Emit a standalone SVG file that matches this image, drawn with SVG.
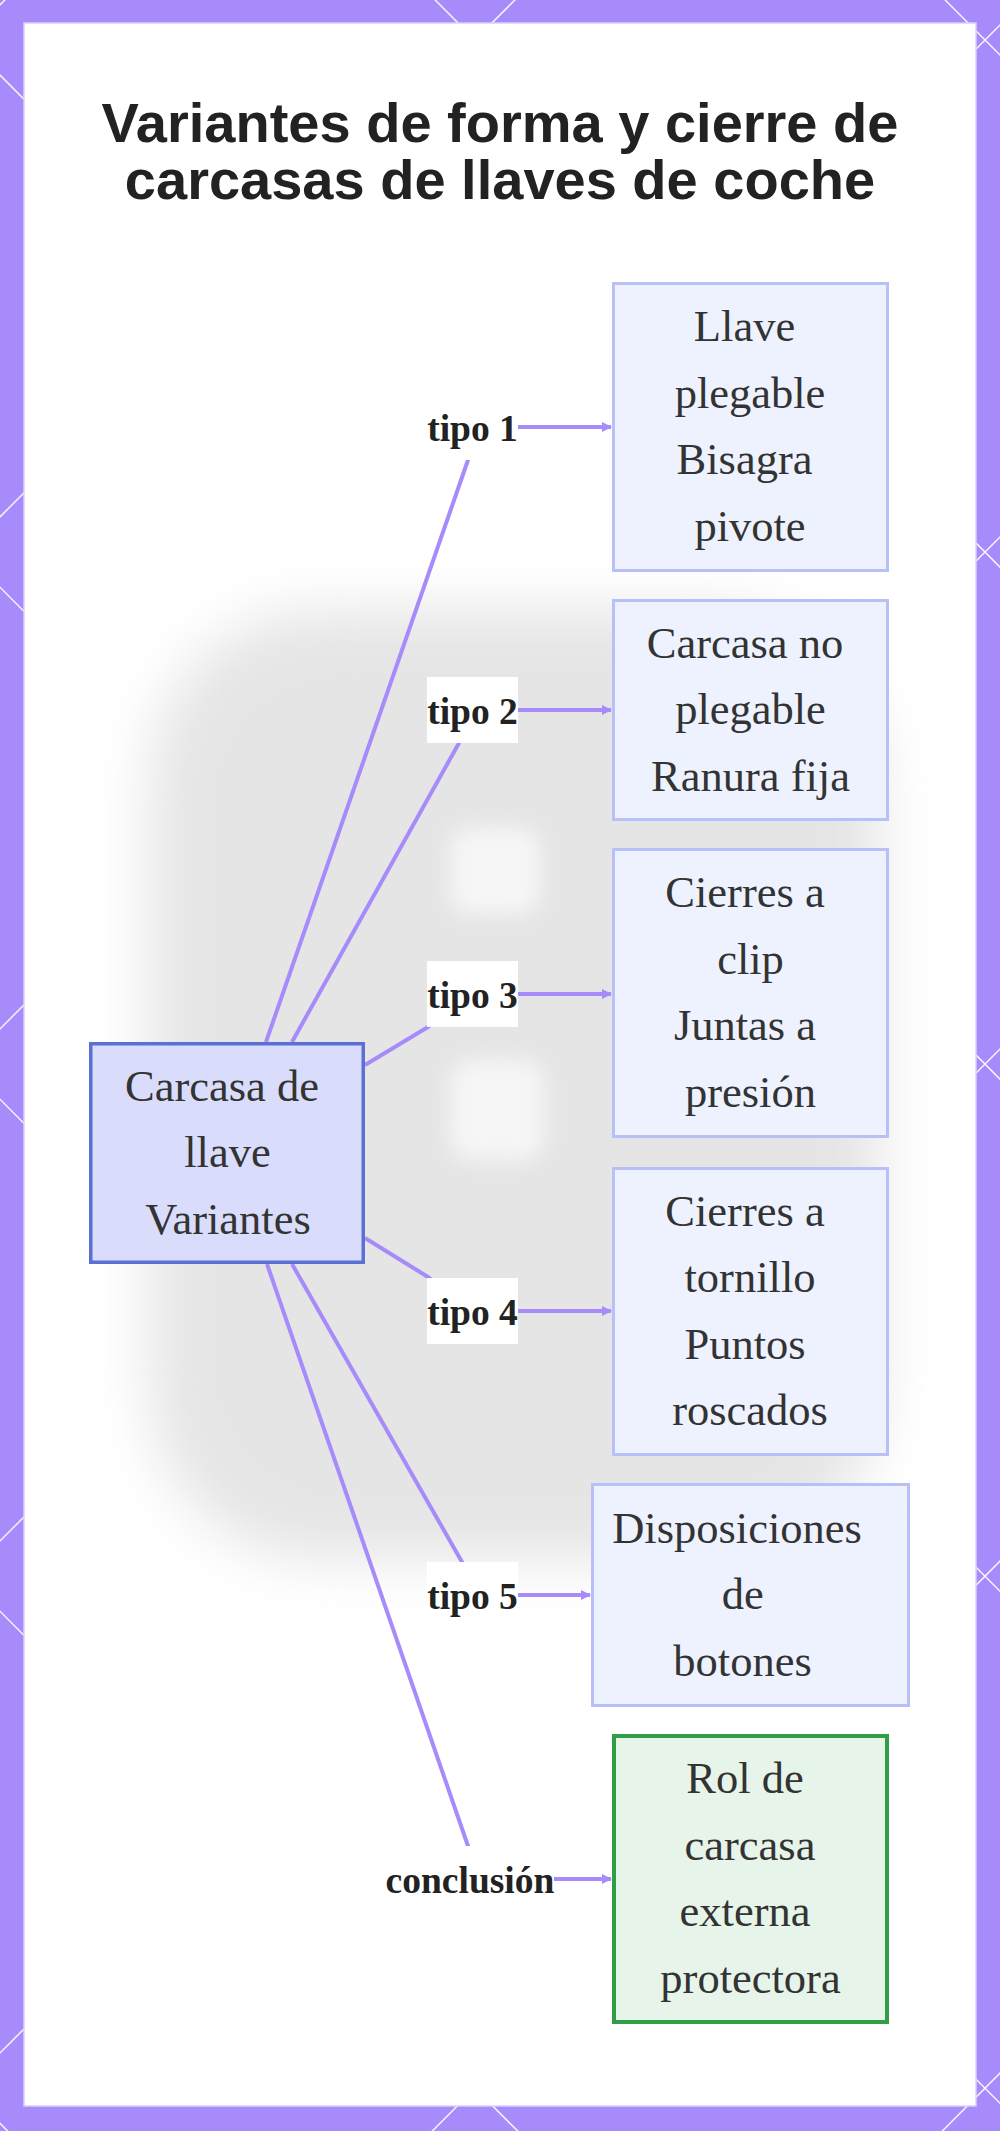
<svg xmlns="http://www.w3.org/2000/svg" width="1000" height="2131" viewBox="0 0 1000 2131">
  <defs>
    <style>
      .title { font-family: "Liberation Sans", Arial, sans-serif; font-weight: bold; font-size: 56px; fill: #222222; text-anchor: middle; }
      .ntext { font-family: "Liberation Serif", "Times New Roman", serif; font-size: 44.5px; fill: #333333; text-anchor: middle; }
      .ltext { font-family: "Liberation Serif", "Times New Roman", serif; font-weight: bold; font-size: 37.5px; fill: #222222; text-anchor: middle; }
      .lbg { fill: #ffffff; }
      .edge { fill: none; stroke: #a78bfa; stroke-width: 4; stroke-linejoin: round; }
      .box { fill: #eef2fe; stroke: #b7c1f7; stroke-width: 3; }
      .boxc { fill: #d9ddfb; stroke: #5b6fd4; stroke-width: 3.5; }
      .boxg { fill: #e6f4e9; stroke: #2f9e46; stroke-width: 4; }
      .lattice { fill: none; stroke: #ffffff; stroke-width: 1.5; opacity: 0.9; }
    </style>
    <marker id="arrow" viewBox="0 0 10 10" refX="9" refY="5" markerWidth="10" markerHeight="10" markerUnits="userSpaceOnUse" orient="auto">
      <path d="M0,0 L10,5 L0,10 z" fill="#a78bfa"/>
    </marker>
    <filter id="blurBig" x="-30%" y="-30%" width="160%" height="160%">
      <feGaussianBlur stdDeviation="28"/>
    </filter>
    <filter id="blurSmall" x="-50%" y="-50%" width="200%" height="200%">
      <feGaussianBlur stdDeviation="10"/>
    </filter>
  </defs>

  <!-- purple frame with lattice -->
  <rect x="0" y="0" width="1000" height="2131" fill="#a78bfa"/>
  <path class="lattice" d="M-2124.8,-10 L16.6,2140 M-1614.8,-10 L526.6,2140 M-1104.8,-10 L1036.6,2140 M-594.8,-10 L1546.6,2140 M-84.8,-10 L2056.6,2140 M425.2,-10 L2566.6,2140 M935.2,-10 L3076.6,2140 M14.8,-10 L-2126.6,2140 M524.8,-10 L-1616.6,2140 M1034.8,-10 L-1106.6,2140 M1544.8,-10 L-596.6,2140 M2054.8,-10 L-86.6,2140 M2564.8,-10 L423.4,2140 M3074.8,-10 L933.4,2140"/>

  <!-- white panel -->
  <rect x="24" y="23" width="952" height="2083" fill="#ffffff" stroke="#d9d0fc" stroke-width="1.5"/>

  <!-- faint blurred background photo -->
  <g id="background">
    <rect x="150" y="610" width="730" height="950" rx="170" fill="#e5e5e5" filter="url(#blurBig)"/>
    <rect x="450" y="828" width="90" height="86" rx="20" fill="#f6f6f6" filter="url(#blurSmall)"/>
    <rect x="450" y="1060" width="94" height="100" rx="22" fill="#f6f6f6" filter="url(#blurSmall)"/>
  </g>

  <!-- title -->
  <g id="title">
    <text class="title" x="500" y="142">Variantes de forma y cierre de</text>
    <text class="title" x="500" y="199">carcasas de llaves de coche</text>
  </g>

  <!-- connectors -->
  <g id="connectors">
    <path class="edge" d="M266,1042 L468,460 L472,427 L611,427" marker-end="url(#arrow)"/>
    <path class="edge" d="M292,1042 L459,743 L472,710 L611,710" marker-end="url(#arrow)"/>
    <path class="edge" d="M365,1065 L428,1027 L472,994 L611,994" marker-end="url(#arrow)"/>
    <path class="edge" d="M365,1238 L428,1277 L472,1311 L611,1311" marker-end="url(#arrow)"/>
    <path class="edge" d="M292,1264 L462,1562 L472,1595 L590,1595" marker-end="url(#arrow)"/>
    <path class="edge" d="M267,1264 L468,1846 L470,1879 L611,1879" marker-end="url(#arrow)"/>
  </g>

  <!-- edge labels -->
  <g id="edge-labels">
    <g id="label-tipo1">
      <rect class="lbg" x="427" y="394" width="91" height="66"/>
      <text class="ltext" x="472.5" y="441">tipo 1</text>
    </g>
    <g id="label-tipo2">
      <rect class="lbg" x="427" y="677" width="91" height="66"/>
      <text class="ltext" x="472.5" y="724">tipo 2</text>
    </g>
    <g id="label-tipo3">
      <rect class="lbg" x="427" y="961" width="91" height="66"/>
      <text class="ltext" x="472.5" y="1008">tipo 3</text>
    </g>
    <g id="label-tipo4">
      <rect class="lbg" x="427" y="1278" width="91" height="66"/>
      <text class="ltext" x="472.5" y="1325">tipo 4</text>
    </g>
    <g id="label-tipo5">
      <rect class="lbg" x="427" y="1562" width="91" height="66"/>
      <text class="ltext" x="472.5" y="1609">tipo 5</text>
    </g>
    <g id="label-conclusion">
      <rect class="lbg" x="386" y="1846" width="168" height="66"/>
      <text class="ltext" x="470" y="1893">conclusión</text>
    </g>
  </g>

  <!-- nodes -->
  <g id="node-center">
    <rect class="boxc" x="90.75" y="1043.75" width="272.5" height="218.5"/>
    <text class="ntext" x="222" y="1100.5">Carcasa de</text>
    <text class="ntext" x="227.5" y="1167">llave</text>
    <text class="ntext" x="228" y="1233.5">Variantes</text>
  </g>

  <g id="node-tipo1">
    <rect class="box" x="613.5" y="283.5" width="274" height="287"/>
    <text class="ntext" x="744.5" y="341.25">Llave</text>
    <text class="ntext" x="750" y="407.75">plegable</text>
    <text class="ntext" x="744.5" y="474.25">Bisagra</text>
    <text class="ntext" x="750" y="540.75">pivote</text>
  </g>

  <g id="node-tipo2">
    <rect class="box" x="613.5" y="600.5" width="274" height="219"/>
    <text class="ntext" x="745" y="657.5">Carcasa no</text>
    <text class="ntext" x="750.5" y="724">plegable</text>
    <text class="ntext" x="750.5" y="790.5">Ranura fija</text>
  </g>

  <g id="node-tipo3">
    <rect class="box" x="613.5" y="849.5" width="274" height="287"/>
    <text class="ntext" x="745" y="907.25">Cierres a</text>
    <text class="ntext" x="750.5" y="973.75">clip</text>
    <text class="ntext" x="745" y="1040.25">Juntas a</text>
    <text class="ntext" x="750.5" y="1106.75">presión</text>
  </g>

  <g id="node-tipo4">
    <rect class="box" x="613.5" y="1168.5" width="274" height="286"/>
    <text class="ntext" x="745" y="1225.75">Cierres a</text>
    <text class="ntext" x="750" y="1292.25">tornillo</text>
    <text class="ntext" x="745" y="1358.75">Puntos</text>
    <text class="ntext" x="750" y="1425.25">roscados</text>
  </g>

  <g id="node-tipo5">
    <rect class="box" x="592.5" y="1484.5" width="316" height="221"/>
    <text class="ntext" x="737" y="1542.5">Disposiciones</text>
    <text class="ntext" x="742.8" y="1609">de</text>
    <text class="ntext" x="742.5" y="1675.5">botones</text>
  </g>

  <g id="node-conclusion">
    <rect class="boxg" x="614" y="1736" width="273" height="286"/>
    <text class="ntext" x="745" y="1793.25">Rol de</text>
    <text class="ntext" x="750" y="1859.75">carcasa</text>
    <text class="ntext" x="745" y="1926.25">externa</text>
    <text class="ntext" x="750.5" y="1992.75">protectora</text>
  </g>
</svg>
